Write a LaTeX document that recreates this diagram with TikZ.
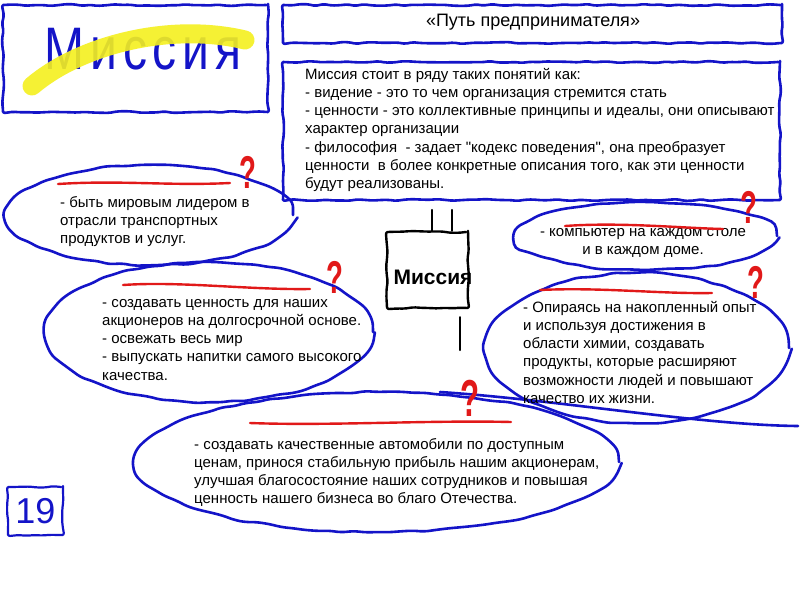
\documentclass[tikz,border=0pt]{standalone}
\usepackage{fontspec}
\setmainfont{Liberation Sans}
\newfontfamily\spacedfont[LetterSpace=12]{Liberation Sans}
\newfontfamily\rawfont{Liberation Sans}
\usetikzlibrary{decorations.pathmorphing,shapes.geometric}
\definecolor{penblue}{RGB}{20,20,200}
\definecolor{penred}{RGB}{225,25,25}
\definecolor{hlyellow}{RGB}{245,240,30}
\begin{document}
\begin{tikzpicture}[x=1pt,y=-1pt,
  wob/.style={decorate,decoration={random steps,segment length=8pt,amplitude=0.9pt},rounded corners=2pt},
  bluepen/.style={draw=penblue,line width=2.6pt,line cap=round,line join=round},
  frame/.style={bluepen,wob,inner sep=0pt},
  oval/.style={bluepen,ellipse,inner sep=0pt,decorate,decoration={random steps,segment length=12pt,amplitude=1.2pt},rounded corners=5pt},
  body/.style={font=\fontsize{15}{18.2}\selectfont,inner sep=0pt,align=left,anchor=north west},
  qmark/.style={text=penred,font=\bfseries\fontsize{46}{46}\selectfont,inner sep=0pt},
  redline/.style={draw=penred,line width=2.4pt,line cap=round},
  blackpen/.style={draw=black,line width=2.4pt,line cap=round,line join=round}
]
\pgfmathsetseed{7}
\useasboundingbox (0,0) rectangle (800,600);
\fill[white] (0,0) rectangle (800,600);

% top-left box
\node[frame,minimum width=265pt,minimum height=107pt] (mbox) at (135.5,58.5) {};
\node[text=penblue,font=\spacedfont\fontsize{60}{60}\selectfont,inner sep=0pt] (mtitle) at (143,49) {\scalebox{0.8}[1]{Миссия}};
\coordinate (y1) at (32,86);
\coordinate (y2) at (245,40);
\draw[hlyellow,line width=19pt,line cap=round,opacity=0.9] (y1) .. controls (80,45) and (170,22) .. (y2);

% title box
\node[frame,minimum width=499pt,minimum height=38pt] (tbox) at (532.5,24) {};
\node[font=\fontsize{18}{18}\selectfont,inner sep=0pt] (title) at (533,22) {«Путь предпринимателя»};

% description box
\node[frame,minimum width=497pt,minimum height=138pt] (dbox) at (531.5,131) {};
\node[body] (dtext) at (305,68) {Миссия стоит в ряду таких понятий как:\\
- видение - это то чем организация стремится стать\\
- ценности - это коллективные принципы и идеалы, они описывают\\
характер организации\\
- философия \ - задает {\rawfont "кодекс поведения"}, она преобразует\\
ценности \ в более конкретные описания того, как эти ценности\\
будут реализованы.};

% ovals
\node[oval,minimum width=286pt,minimum height=100pt] (e1) at (150,215) {};
\node[oval,minimum width=328pt,minimum height=140pt] (e2) at (209,332) {};
\node[oval,minimum width=262pt,minimum height=68pt] (e3) at (646,236) {};
\node[oval,minimum width=304pt,minimum height=150pt] (e4) at (637,348) {};
\node[oval,minimum width=484pt,minimum height=140pt] (e5) at (377,462) {};
\coordinate (tailA) at (440,392);
\coordinate (tailB) at (798,426);
\draw[bluepen] (tailA) .. controls (560,400) and (700,425) .. (tailB);

% texts in ovals
\node[body] (t1) at (60,196) {- быть мировым лидером в\\отрасли транспортных\\продуктов и услуг.};
\node[body] (t2) at (102,299) {- создавать ценность для наших\\акционеров на долгосрочной основе.\\- освежать весь мир\\- выпускать напитки самого высокого\\качества.};
\node[body,anchor=north,align=center] (t3) at (643,228) {- компьютер на каждом столе\\и в каждом доме.};
\node[body] (t4) at (523,301) {- Опираясь на накопленный опыт\\и используя достижения в\\области химии, создавать\\продукты, которые расширяют\\возможности людей и повышают\\качество их жизни.};
\node[body] (t5) at (194,438) {- создавать качественные автомобили по доступным\\ценам, принося стабильную прибыль нашим акционерам,\\улучшая благосостояние наших сотрудников и повышая\\ценность нашего бизнеса во благо Отечества.};

% red underlines
\coordinate (r1a) at (58,184); \coordinate (r1b) at (230,183);
\coordinate (r2a) at (123,285); \coordinate (r2b) at (310,289);
\coordinate (r3a) at (565,226); \coordinate (r3b) at (723,229);
\coordinate (r4a) at (540,290); \coordinate (r4b) at (712,293);
\coordinate (r5a) at (250,423); \coordinate (r5b) at (511,422);
\draw[redline] (r1a) .. controls (120,180) and (170,186) .. (r1b);
\draw[redline] (r2a) .. controls (180,281) and (250,290) .. (r2b);
\draw[redline] (r3a) .. controls (620,222) and (680,228) .. (r3b);
\draw[redline] (r4a) .. controls (600,287) and (660,294) .. (r4b);
\draw[redline] (r5a) .. controls (330,426) and (430,420) .. (r5b);

% question marks
\node[qmark] (q1) at (248,172) {\scalebox{0.6}[1]{?}};
\node[qmark] (q2) at (335,277) {\scalebox{0.6}[1]{?}};
\node[qmark] (q3) at (749,207) {\scalebox{0.6}[1]{?}};
\node[qmark] (q4) at (756,282) {\scalebox{0.6}[1]{?}};
\node[qmark,font=\bfseries\fontsize{52}{52}\selectfont] (q5) at (470,398) {\scalebox{0.6}[1]{?}};

% central box
\node[blackpen,wob,minimum width=81pt,minimum height=76pt,inner sep=0pt] (cbox) at (427.5,270) {};
\node[font=\bfseries\fontsize{21}{21}\selectfont,inner sep=0pt] (ctext) at (433,277) {Миссия};
\coordinate (k1) at (432,210);
\coordinate (k2) at (452,210);
\coordinate (k3) at (460,350);
\draw[blackpen] (k1) -- (k1 |- cbox.north);
\draw[blackpen] (k2) -- (k2 |- cbox.north);
\draw[blackpen] (k3) -- ([yshift=-8pt]k3 |- cbox.south);

% page number
\node[frame,line width=2.2pt,minimum width=55pt,minimum height=48pt,text=penblue,font=\fontsize{36}{36}\selectfont] (page) at (35.5,511) {19};
\end{tikzpicture}
\end{document}
